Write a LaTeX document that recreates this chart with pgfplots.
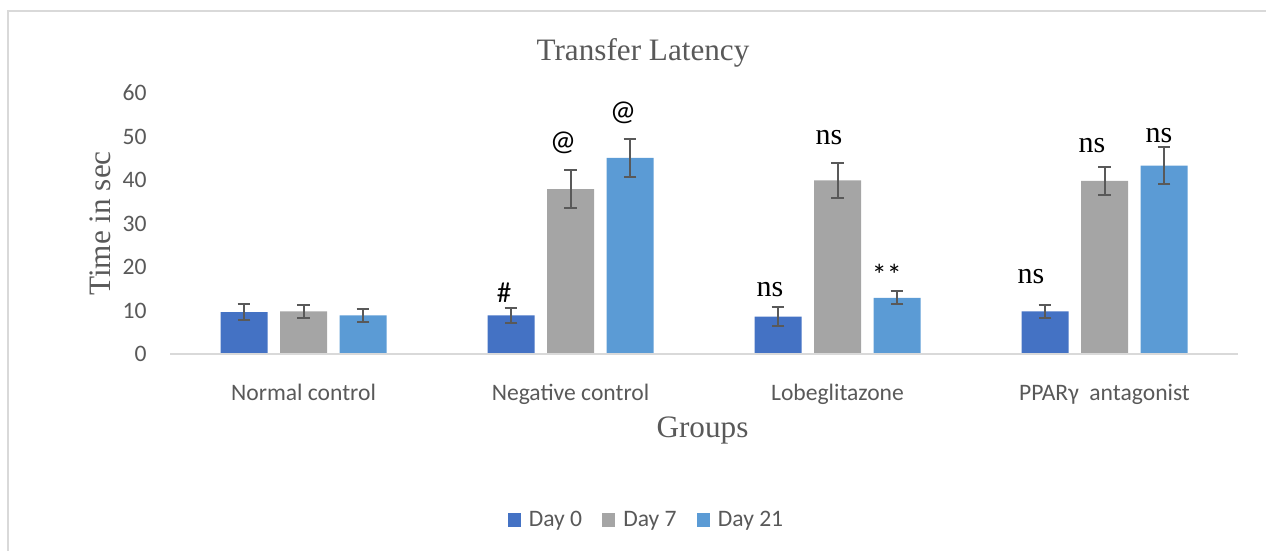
\documentclass[border=0pt]{standalone}
\usepackage{pgfplots}
\pgfplotsset{compat=1.18}
\usepackage{fontspec}
\setmainfont{Liberation Serif}
\newfontfamily\carlito{Carlito}
\definecolor{cA}{HTML}{4472C4}
\definecolor{cB}{HTML}{A5A5A5}
\definecolor{cC}{HTML}{5B9BD5}
\definecolor{txt}{HTML}{595959}
\definecolor{axl}{HTML}{D9D9D9}
\begin{document}
\begin{tikzpicture}
\useasboundingbox (0,0) rectangle (633bp,275.5bp);
\draw[axl, line width=0.8bp] (4bp,0) -- (4bp,270bp) -- (640bp,270bp);
\begin{axis}[
  at={(85bp,98.5bp)}, anchor=south west,
  scale only axis, width=534bp, height=130.5bp,
  xmin=-0.5, xmax=3.5, ymin=0, ymax=60,
  ybar=6.25bp, bar width=23.5bp,
  axis line style={draw=none}, tick style={draw=none},
  xtick={0,1,2,3},
  xticklabels={Normal control, Negative control, Lobeglitazone, {PPARγ\ \ antagonist}},
  xticklabel style={anchor=base, yshift=-19bp, font=\carlito\fontsize{11.8bp}{13bp}\selectfont, text=txt},
  ytick={0,10,...,60},
  yticklabel style={anchor=east, xshift=-11.5bp, inner sep=0pt, font=\carlito\fontsize{11.8bp}{13bp}\selectfont, text=txt},
  /pgf/number format/assume math mode=true,
  error bars/y dir=both, error bars/y explicit,
  error bars/error bar style={line width=1bp, color=txt},
  error bars/error mark options={rotate=90, mark size=3.2bp, line width=1bp, color=txt},
  legend columns=3,
  legend style={at={(0.447,-0.636)}, anchor=center, draw=none, fill=none,
    font=\carlito\fontsize{11.8bp}{13bp}\selectfont, text=txt,
    /tikz/every even column/.append style={column sep=8bp},
    inner sep=0pt},
  legend image code/.code={\fill[#1] (0bp,-3.3bp) rectangle (6.6bp,3.3bp); \path (8.6bp,0bp);},
  clip=false,
]
\addplot[fill=cA, draw=none] coordinates {
  (0,9.6) +- (0,1.8)
  (1,8.9) +- (0,1.75)
  (2,8.6) +- (0,2.15)
  (3,9.8) +- (0,1.5)
};
\addplot[fill=cB, draw=none] coordinates {
  (0,9.8) +- (0,1.55)
  (1,37.9) +- (0,4.3)
  (2,39.9) +- (0,4.0)
  (3,39.8) +- (0,3.2)
};
\addplot[fill=cC, draw=none] coordinates {
  (0,8.9) +- (0,1.45)
  (1,45.1) +- (0,4.3)
  (2,12.9) +- (0,1.5)
  (3,43.3) +- (0,4.2)
};
\legend{Day 0, Day 7, Day 21}
\draw[axl, line width=1bp] (rel axis cs:0,0) -- (rel axis cs:1,0);
\node[font=\carlito\fontsize{14.5bp}{16bp}\selectfont] at (axis cs:0.751,14.0) {\#};
\node[font=\carlito\fontsize{14.5bp}{16bp}\selectfont] at (axis cs:0.972,48.5) {@};
\node[font=\carlito\fontsize{14.5bp}{16bp}\selectfont] at (axis cs:1.197,55.4) {@};
\node[font=\fontsize{15bp}{17bp}\selectfont] at (axis cs:1.747,14.7) {ns};
\node[font=\fontsize{15bp}{17bp}\selectfont] at (axis cs:1.968,49.7) {ns};
\node[font=\carlito\fontsize{15bp}{17bp}\selectfont] at (axis cs:2.185,18.2) {**};
\node[font=\fontsize{15bp}{17bp}\selectfont] at (axis cs:2.725,17.7) {ns};
\node[font=\fontsize{15bp}{17bp}\selectfont] at (axis cs:2.953,48.0) {ns};
\node[font=\fontsize{15bp}{17bp}\selectfont] at (axis cs:3.204,50.3) {ns};
\end{axis}
\node[anchor=base, text=txt, font=\fontsize{15.6bp}{18bp}\selectfont] at (321.5bp,245bp) {Transfer Latency};
\node[anchor=base, text=txt, font=\fontsize{15.6bp}{18bp}\selectfont] at (351.25bp,56.5bp) {Groups};
\node[rotate=90, text=txt, font=\fontsize{15.6bp}{18bp}\selectfont] at (50bp,163.75bp) {Time in sec};
\end{tikzpicture}
\end{document}
